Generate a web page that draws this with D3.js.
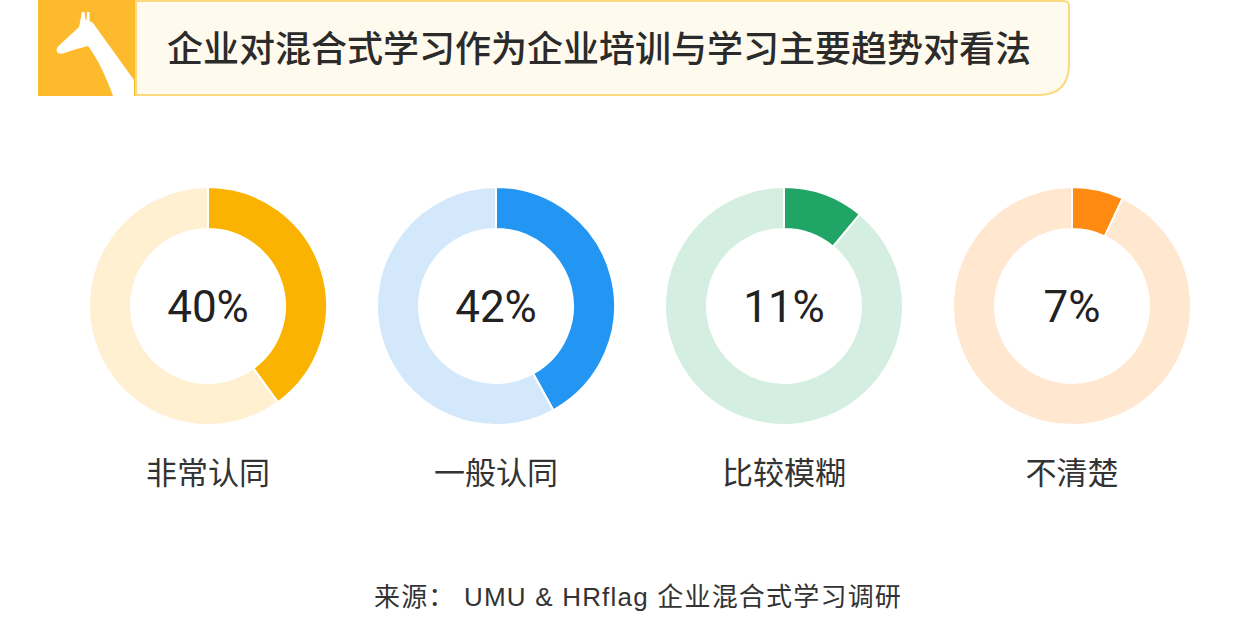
<!DOCTYPE html>
<html><head><meta charset="utf-8">
<script src="https://cdn.jsdelivr.net/npm/d3@7"></script>
<style>body{margin:0;background:#fff;}svg{display:block;}</style>
</head><body>
<svg id="c" width="1240" height="624"></svg>
<script>
const title = "企业对混合式学习作为企业培训与学习主要趋势对看法";
const categories = ["非常认同","一般认同","比较模糊","不清楚"];
const values = [40, 42, 11, 7];
const mainColors = ["#F9B300","#2396F3","#21A566","#FF8A12"];
const lightColors = ["#FEF0D0","#D4E8FB","#D4EEE1","#FFE7D0"];
const source = "来源： UMU & HRflag 企业混合式学习调研";

const svg = d3.select("#c");
const cjk = "'Noto Sans CJK SC', sans-serif";

// header logo
svg.append("rect").attr("x",38).attr("y",0).attr("width",97).attr("height",96).attr("fill","#FDBA2C");
svg.append("path").attr("fill","#fff")
  .attr("d","M82,12 L84.5,12 L85.5,20 L86.5,20 L87,12 L89.5,12 L89.5,21 L93,23 L134,80 L134,96 L113,96 C106,76 97,58 88,46 C80,48 70,51 63,53.5 C57,55 55,50 58,46.5 L79,27 Z");
// title box
svg.append("path").attr("fill","#FFFAEE").attr("stroke","#FCD97E").attr("stroke-width",2)
  .attr("d","M136,1 L1064,1 Q1069,1 1069,6 L1069,64 Q1069,95 1038,95 L136,95 Z");
svg.append("text").attr("x",167).attr("y",62).attr("font-family",cjk).attr("font-size",36)
  .attr("font-weight",500).attr("fill","#2b2b2b").text(title);

const cx = d3.scalePoint().domain(categories).range([208,1072]);
const pie = d3.pie().sort(null).value(d=>d);
const arc = d3.arc().innerRadius(77).outerRadius(119);

categories.forEach((c,i)=>{
  const g = svg.append("g").attr("transform",`translate(${cx(c)},306)`);
  const data = pie([values[i], 100-values[i]]);
  g.selectAll("path").data(data).join("path")
    .attr("d",arc)
    .attr("fill",(d,j)=> j===0 ? mainColors[i] : lightColors[i])
    .attr("stroke","#fff").attr("stroke-width",2);
  g.append("text").attr("text-anchor","middle").attr("y",16)
    .attr("font-family","Roboto, sans-serif").attr("font-size",44)
    .attr("fill","#222").text(values[i]+"%");
  svg.append("text").attr("x",cx(c)).attr("y",484).attr("text-anchor","middle")
    .attr("font-family",cjk).attr("font-size",31).attr("fill","#333").text(c);
});

svg.append("text").attr("x",638).attr("y",606).attr("text-anchor","middle")
  .attr("font-family","'Liberation Sans', 'Noto Sans CJK SC', sans-serif").attr("font-size",26)
  .attr("letter-spacing",1.2).attr("fill","#333").text(source);
</script>
</body></html>
